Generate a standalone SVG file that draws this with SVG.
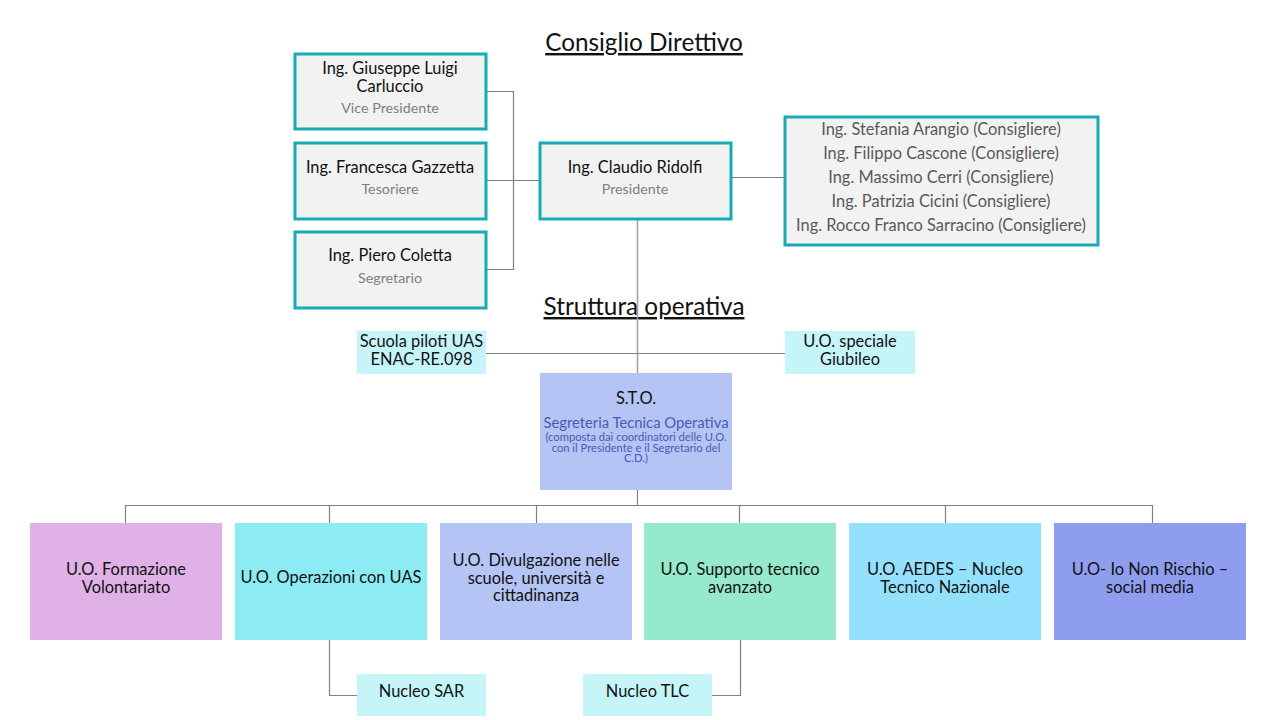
<svg xmlns="http://www.w3.org/2000/svg" width="1280" height="720" viewBox="0 0 1280 720">
<style>
text{font-family:Lato,"Open Sans","Liberation Sans",sans-serif;text-anchor:middle}
.cd{fill:#f2f2f2;stroke:#17abb5;stroke-width:3}
.nm{font-size:16.4px;fill:#111}
.sub{font-size:14.3px;fill:#7f7f7f}
.cons{font-size:16.4px;fill:#595959}
.ttl{font-size:24.3px;fill:#111;text-decoration:underline}
.lt{fill:#c5f5f9}
.uo{font-size:16.4px;fill:#111}
.blue{fill:#4a5bb5}
.conn path{fill:none;stroke:#808080;stroke-width:1.2}
</style>
<rect width="1280" height="720" fill="#fff"/>
<text class="ttl" x="644" y="51">Consiglio Direttivo</text>
<text class="ttl" x="644" y="315">Struttura operativa</text>
<g class="conn" id="connectors">
<path d="M486 91.5H513.5V269.5H486"/>
<path d="M486 180.5H540"/>
<path d="M731 177.5H785"/>
<path d="M637.5 220V373" style="stroke:#a0a0a0;stroke-width:1.5"/>
<path d="M486 353.5H785"/>
<path d="M637.5 490V505.5"/>
<path d="M125.5 523V505.5H1152.5V523"/>
<path d="M329.5 505.5V523M536.5 505.5V523M739.5 505.5V523M945.5 505.5V523"/>
<path d="M329.5 640V695.5H357"/>
<path d="M740.5 640V695.5H712"/>
</g>
<g id="vice"><rect class="cd" x="295" y="54" width="191" height="75"/>
<text class="nm" x="390" y="73.5">Ing. Giuseppe Luigi</text><text class="nm" x="390" y="91.5">Carluccio</text><text class="sub" x="390" y="113">Vice Presidente</text></g>
<g id="tesoriere"><rect class="cd" x="295" y="143" width="191" height="76"/>
<text class="nm" x="390" y="172.5">Ing. Francesca Gazzetta</text><text class="sub" x="390" y="194">Tesoriere</text></g>
<g id="segretario"><rect class="cd" x="295" y="232" width="191" height="76"/>
<text class="nm" x="390" y="260.5">Ing. Piero Coletta</text><text class="sub" x="390" y="283">Segretario</text></g>
<g id="presidente"><rect class="cd" x="540" y="143" width="191" height="76"/>
<text class="nm" x="635" y="172.5">Ing. Claudio Ridolfi</text><text class="sub" x="635" y="194">Presidente</text></g>
<g id="consiglieri"><rect class="cd" x="785" y="117" width="313" height="128"/>
<text class="cons" x="941" y="134.5">Ing. Stefania Arangio (Consigliere)</text>
<text class="cons" x="941" y="158.5">Ing. Filippo Cascone (Consigliere)</text>
<text class="cons" x="941" y="182.5">Ing. Massimo Cerri (Consigliere)</text>
<text class="cons" x="941" y="206.5">Ing. Patrizia Cicini (Consigliere)</text>
<text class="cons" x="941" y="230.5">Ing. Rocco Franco Sarracino (Consigliere)</text></g>
<g id="scuola"><rect class="lt" x="357" y="331" width="129" height="43"/>
<text class="uo" x="421.5" y="347">Scuola piloti UAS</text><text class="uo" x="421.5" y="364.5">ENAC-RE.098</text></g>
<g id="giubileo"><rect class="lt" x="785" y="331" width="130" height="43"/>
<text class="uo" x="850" y="346.5">U.O. speciale</text><text class="uo" x="850" y="364.5">Giubileo</text></g>
<g id="sto"><rect x="540" y="373" width="192" height="117" fill="#b4c4f4"/>
<text class="uo" x="636" y="403.5">S.T.O.</text>
<text class="blue" x="636" y="428" style="font-size:14.8px">Segreteria Tecnica Operativa</text>
<text class="blue" x="636" y="441" style="font-size:11.2px">(composta dai coordinatori delle U.O.</text>
<text class="blue" x="636" y="451.5" style="font-size:11.2px">con il Presidente e il Segretario del</text>
<text class="blue" x="636" y="462" style="font-size:11.2px">C.D.)</text></g>
<g id="formazione"><rect x="30" y="523" width="192" height="117" fill="#dfb1e6"/>
<text class="uo" x="126" y="574.5">U.O. Formazione</text><text class="uo" x="126" y="592.5">Volontariato</text></g>
<g id="operazioni"><rect x="235" y="523" width="192" height="117" fill="#8debf3"/>
<text class="uo" x="331" y="582.5">U.O. Operazioni con UAS</text></g>
<g id="divulgazione"><rect x="440" y="523" width="192" height="117" fill="#b4c4f4"/>
<text class="uo" x="536" y="565.5">U.O. Divulgazione nelle</text><text class="uo" x="536" y="583.5">scuole, università e</text><text class="uo" x="536" y="600.5">cittadinanza</text></g>
<g id="supporto"><rect x="644" y="523" width="192" height="117" fill="#96e9ca"/>
<text class="uo" x="740" y="574.5">U.O. Supporto tecnico</text><text class="uo" x="740" y="592.5">avanzato</text></g>
<g id="aedes"><rect x="849" y="523" width="192" height="117" fill="#94e1fd"/>
<text class="uo" x="945" y="574.5">U.O. AEDES – Nucleo</text><text class="uo" x="945" y="592.5">Tecnico Nazionale</text></g>
<g id="ionorischio"><rect x="1054" y="523" width="192" height="117" fill="#8f9dee"/>
<text class="uo" x="1150" y="574.5">U.O- Io Non Rischio –</text><text class="uo" x="1150" y="592.5">social media</text></g>
<g id="nucleo-sar"><rect class="lt" x="357" y="674" width="129" height="42"/>
<text class="uo" x="421.5" y="696.5">Nucleo SAR</text></g>
<g id="nucleo-tlc"><rect class="lt" x="583" y="674" width="129" height="42"/>
<text class="uo" x="647.5" y="696.5">Nucleo TLC</text></g>
</svg>
